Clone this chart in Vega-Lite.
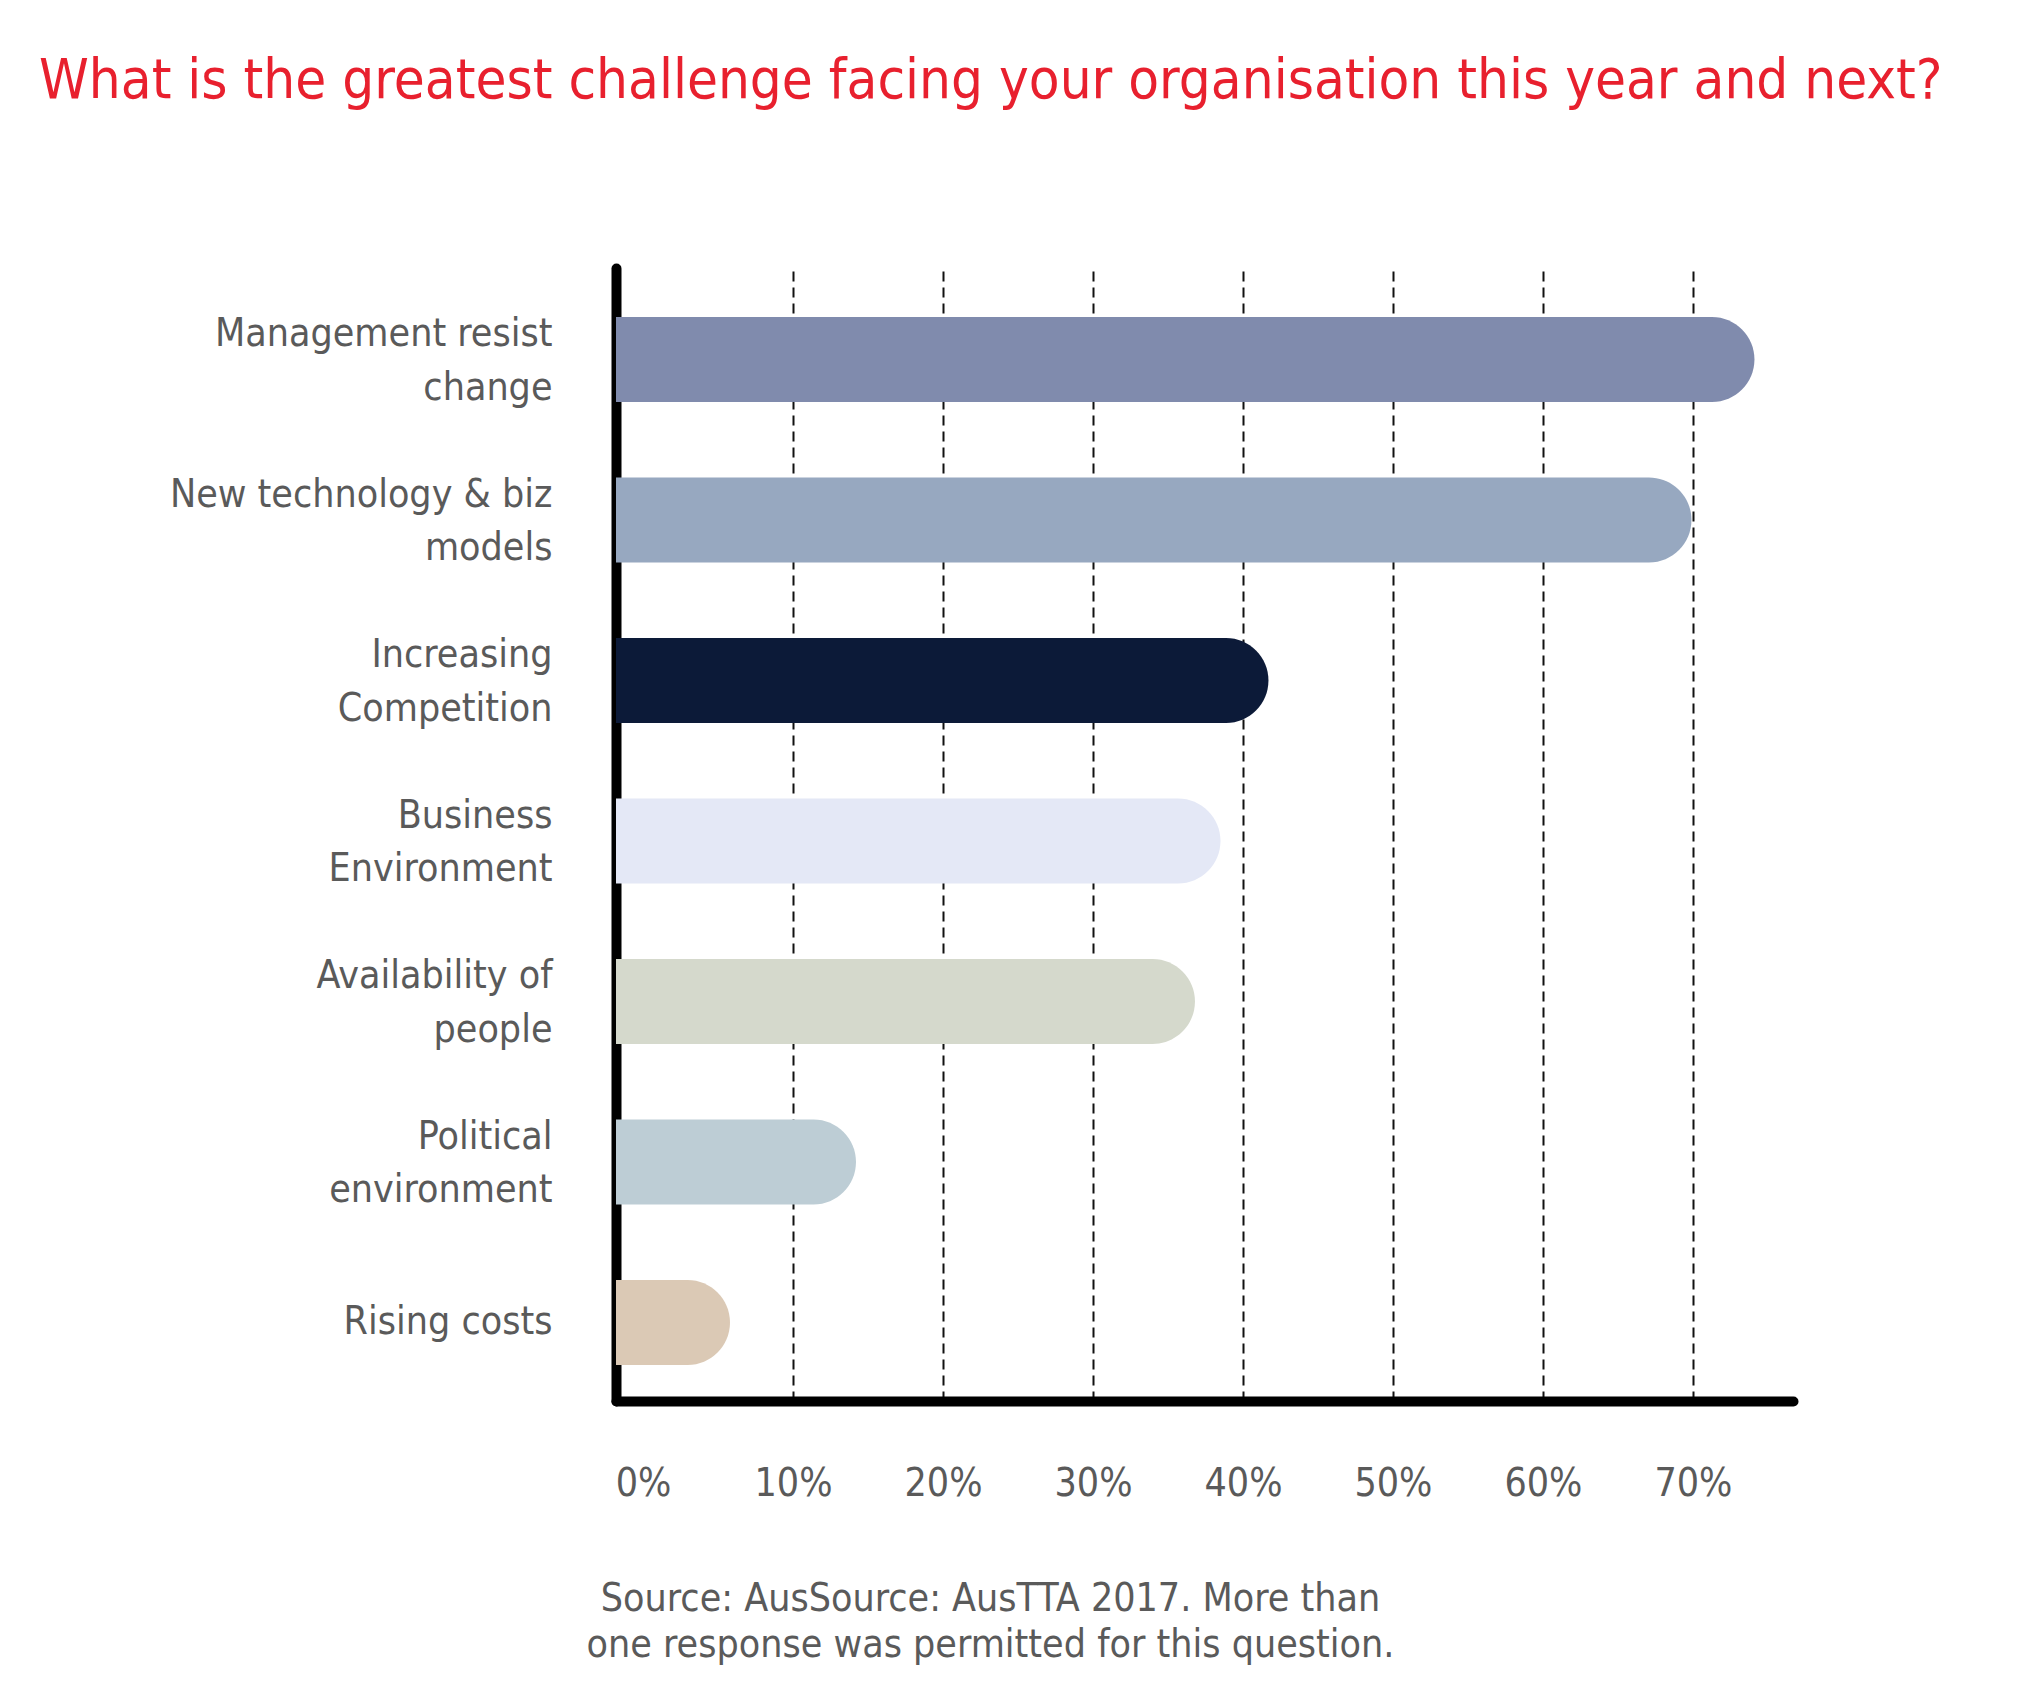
{
  "$schema": "https://vega.github.io/schema/vega-lite/v6.json",
  "width": 1177,
  "height": 1133,
  "autosize": {"type": "none"},
  "padding": {"left": 616, "top": 268, "right": 246, "bottom": 289},
  "background": "white",
  "title": {
    "text": "What is the greatest challenge facing your organisation this year and next?",
    "anchor": "start",
    "frame": "group",
    "font": "DejaVu Sans Condensed, sans-serif",
    "fontSize": 56,
    "fontWeight": "normal",
    "color": "#E8202E",
    "baseline": "alphabetic",
    "dx": -577,
    "offset": 114
  },
  "data": {
    "values": [
      {"challenge": "Management resist change", "value": 74.1},
      {"challenge": "New technology & biz models", "value": 69.9},
      {"challenge": "Increasing Competition", "value": 41.7},
      {"challenge": "Business Environment", "value": 38.5},
      {"challenge": "Availability of people", "value": 36.8},
      {"challenge": "Political environment", "value": 14.2},
      {"challenge": "Rising costs", "value": 5.8}
    ]
  },
  "mark": {"type": "bar", "cornerRadiusTopRight": 42.5, "cornerRadiusBottomRight": 42.5},
  "encoding": {
    "y": {
      "field": "challenge",
      "type": "nominal",
      "sort": null,
      "scale": {"paddingInner": 0.4704, "paddingOuter": 0.265, "align": 0.576},
      "axis": {
        "title": null,
        "labelExpr": "datum.label == 'Management resist change' ? ['Management resist', 'change'] : datum.label == 'New technology & biz models' ? ['New technology & biz', 'models'] : datum.label == 'Increasing Competition' ? ['Increasing', 'Competition'] : datum.label == 'Business Environment' ? ['Business', 'Environment'] : datum.label == 'Availability of people' ? ['Availability of', 'people'] : datum.label == 'Political environment' ? ['Political', 'environment'] : datum.label",
        "labelFont": "DejaVu Sans Condensed, sans-serif",
        "labelFontSize": 39,
        "labelColor": "#5a5a5a",
        "labelLineHeight": 53.5,
        "labelAlign": "right",
        "labelBaseline": "middle",
        "labelOffset": {"condition": {"test": "datum.value === 'Rising costs'", "value": 0}, "value": -25},
        "labelPadding": 64,
        "labelLimit": 0,
        "ticks": false,
        "tickSize": 0,
        "grid": false,
        "domain": true,
        "domainColor": "black",
        "domainWidth": 10,
        "domainCap": "round"
      }
    },
    "x": {
      "field": "value",
      "type": "quantitative",
      "scale": {"domain": [-1.8, 76.67], "nice": false, "zero": false},
      "axis": {
        "values": [0, 10, 20, 30, 40, 50, 60, 70],
        "labelExpr": "datum.value + '%'",
        "labelFont": "DejaVu Sans Condensed, sans-serif",
        "labelFontSize": 39,
        "labelColor": "#5a5a5a",
        "labelBaseline": "alphabetic",
        "labelPadding": 94,
        "ticks": false,
        "tickSize": 0,
        "grid": true,
        "gridColor": "#111111",
        "gridWidth": 2,
        "gridDash": [10, 6],
        "gridOpacity": {"condition": {"test": "datum.value === 0", "value": 0}, "value": 1},
        "domain": true,
        "domainColor": "black",
        "domainWidth": 10,
        "domainCap": "round",
        "title": ["Source: AusSource: AusTTA 2017. More than", "one response was permitted for this question."],
        "titleFont": "DejaVu Sans Condensed, sans-serif",
        "titleFontSize": 39,
        "titleFontWeight": "normal",
        "titleColor": "#5a5a5a",
        "titleLineHeight": 46,
        "titleAlign": "center",
        "titleBaseline": "alphabetic",
        "titleX": 374,
        "titleY": 209
      }
    },
    "x2": {"datum": -1.8},
    "color": {
      "field": "challenge",
      "type": "nominal",
      "legend": null,
      "scale": {
        "domain": ["Management resist change", "New technology & biz models", "Increasing Competition", "Business Environment", "Availability of people", "Political environment", "Rising costs"],
        "range": ["#808BAD", "#97A8C0", "#0C1A38", "#E4E8F6", "#D5D9CC", "#BDCDD5", "#DBC9B5"]
      }
    }
  },
  "config": {
    "view": {"stroke": null}
  }
}
